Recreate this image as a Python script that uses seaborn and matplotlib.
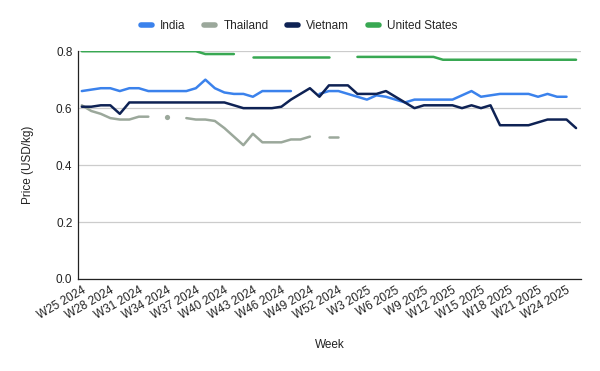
import numpy as np
import pandas as pd
import matplotlib
matplotlib.use("Agg")
import matplotlib.pyplot as plt
import seaborn as sns

nan = np.nan

# weeks W25 2024 .. W25 2025
weeks = [f"W{w} 2024" for w in range(25, 53)] + [f"W{w} 2025" for w in range(1, 26)]

india = [0.66, 0.665, 0.67, 0.67, 0.66, 0.67, 0.67, 0.66, 0.66, 0.66, 0.66, 0.66, 0.67, 0.70,
         0.67, 0.655, 0.65, 0.65, 0.64, 0.66, 0.66, 0.66, 0.66, nan, nan, 0.65, 0.66, 0.66,
         0.65, 0.64, 0.63, 0.645, 0.64, 0.63, 0.62, 0.63, 0.63, 0.63, 0.63, 0.63, 0.645, 0.66,
         0.64, 0.645, 0.65, 0.65, 0.65, 0.65, 0.64, 0.65, 0.64, 0.64, nan]
thailand = [0.61, 0.59, 0.58, 0.565, 0.56, 0.56, 0.57, 0.57, nan, 0.57, nan, 0.565, 0.56, 0.56,
            0.555, 0.53, 0.50, 0.47, 0.51, 0.48, 0.48, 0.48, 0.49, 0.49, 0.50, nan, 0.50, 0.50] + [nan] * 25
vietnam = [0.605, 0.605, 0.61, 0.61, 0.58, 0.62, 0.62, 0.62, 0.62, 0.62, 0.62, 0.62, 0.62, 0.62,
           0.62, 0.62, 0.61, 0.60, 0.60, 0.60, 0.60, 0.605, 0.63, 0.65, 0.67, 0.64, 0.68, 0.68,
           0.68, 0.65, 0.65, 0.65, 0.66, 0.64, 0.62, 0.60, 0.61, 0.61, 0.61, 0.61, 0.60, 0.61,
           0.60, 0.61, 0.54, 0.54, 0.54, 0.54, 0.55, 0.56, 0.56, 0.56, 0.53]
us = [0.80] * 13 + [0.79] * 4 + [nan] + [0.78] * 9 + [nan, nan] + [0.78] * 9 + [0.77] * 15

series = {"India": india, "Thailand": thailand, "Vietnam": vietnam, "United States": us}
colors = {"India": "#3b82ec", "Thailand": "#9ba89b", "Vietnam": "#0e2254", "United States": "#38a852"}

rows = []
for name, vals in series.items():
    seg = 0
    prev_nan = True
    for i, v in enumerate(vals):
        if np.isnan(v):
            prev_nan = True
            continue
        if prev_nan:
            seg += 1
        prev_nan = False
        rows.append({"idx": i, "price": v, "country": name, "seg": f"{name}_{seg}"})
df = pd.DataFrame(rows)

# points with no neighbours would be invisible as lines
seg_size = df.groupby("seg")["idx"].transform("size")
singles = df[seg_size == 1]

sns.set_style("white")
plt.rcParams["font.family"] = ["Liberation Sans", "DejaVu Sans"]

fig = plt.figure(figsize=(6, 3.71), dpi=100)
ax = fig.add_axes([0.13, 0.248, 0.838, 0.614])

sns.lineplot(data=df, x="idx", y="price", hue="country", units="seg", estimator=None,
             palette=colors, linewidth=1.8, ax=ax, sort=True)
sns.scatterplot(data=singles, x="idx", y="price", hue="country", palette=colors,
                s=14, linewidth=0, legend=False, ax=ax)

ax.set_xlim(-0.4, 52.5)
ax.set_ylim(0, 0.8)
ax.set_yticks([0, 0.2, 0.4, 0.6, 0.8])
ax.set_yticklabels([f"{t:.1f}" for t in [0, 0.2, 0.4, 0.6, 0.8]], fontsize=8.5, color="#222222")
ax.yaxis.grid(True, color="#cccccc", linewidth=0.9)
ax.set_axisbelow(True)

tick_idx = list(range(0, 52, 3))
ax.set_xticks(tick_idx)
ax.set_xticklabels([weeks[i] for i in tick_idx], rotation=30, ha="right",
                   rotation_mode="anchor", fontsize=8.5, color="#222222")
ax.tick_params(axis="both", length=0, pad=4)

for s in ["top", "right"]:
    ax.spines[s].set_visible(False)
ax.spines["left"].set_color("#222222")
ax.spines["bottom"].set_color("#222222")
ax.spines["left"].set_linewidth(0.9)
ax.spines["bottom"].set_linewidth(0.9)

ax.set_xlabel("Week", fontsize=8.5, color="#222222", labelpad=12)
ax.set_ylabel("Price (USD/kg)", fontsize=8.5, color="#222222", labelpad=16)

handles, labels = ax.get_legend_handles_labels()
for h in handles:
    h.set_linewidth(4)
ax.legend(handles, labels, loc="center", bbox_to_anchor=(0.44, 1.11), ncol=4,
          frameon=False, fontsize=8.5, handlelength=0.9, handletextpad=0.7, columnspacing=1.6)

fig.savefig("out.png", dpi=100)
